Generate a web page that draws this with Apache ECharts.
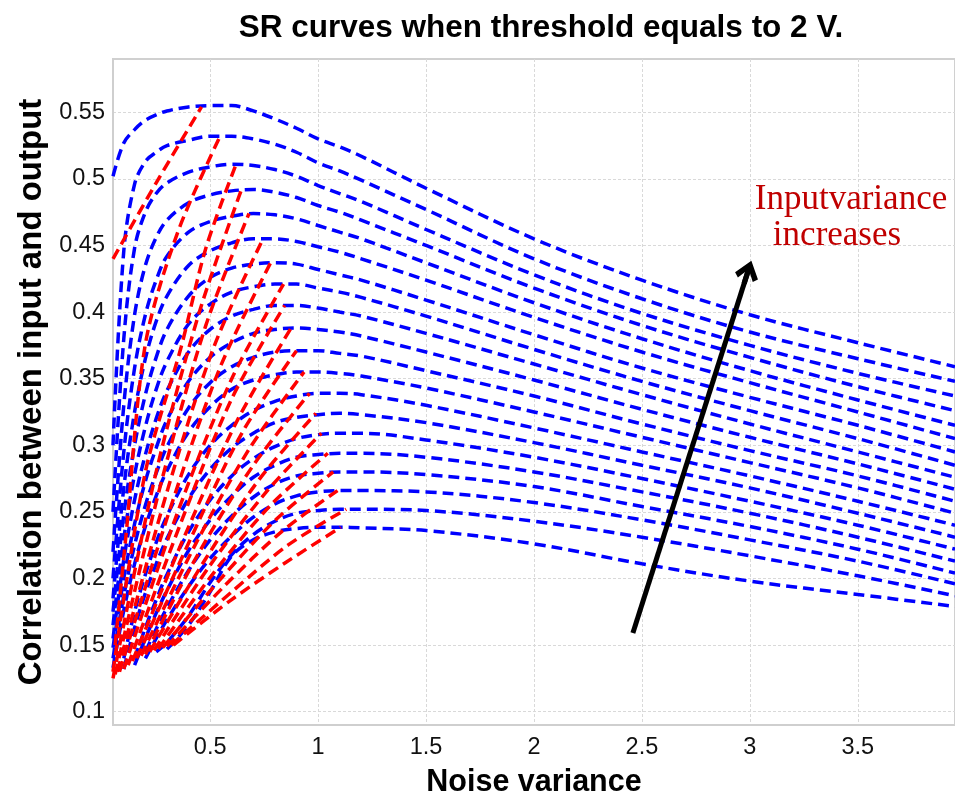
<!DOCTYPE html>
<html>
<head>
<meta charset="utf-8">
<script src="https://cdn.jsdelivr.net/npm/echarts@6/dist/echarts.min.js"></script>
<style>
html,body{margin:0;padding:0;background:#fff;}
#c{width:955px;height:803px;}
</style>
</head>
<body>
<div id="c"></div>
<script>
// ---- Data ----
const xTicks = [0.5, 1, 1.5, 2, 2.5, 3, 3.5];
const yTicks = [0.1, 0.15, 0.2, 0.25, 0.3, 0.35, 0.4, 0.45, 0.5, 0.55];

const noiseGrid = [0.05, 0.1, 0.15, 0.2, 0.25, 0.3, 0.4, 0.5, 0.6, 0.7, 0.8, 0.9, 1.0, 1.1, 1.2, 1.5, 2.0, 2.5, 3.0, 3.5, 3.95];

const blue1  = [0.502, 0.527, 0.537, 0.544, 0.548, 0.551, 0.554, 0.555, 0.555, 0.551, 0.545, 0.538, 0.530, 0.524, 0.517, 0.493, 0.455, 0.424, 0.398, 0.377, 0.359];
const blue2  = [0.300, 0.446, 0.496, 0.513, 0.520, 0.525, 0.529, 0.532, 0.532, 0.530, 0.526, 0.520, 0.512, 0.506, 0.499, 0.477, 0.440, 0.410, 0.385, 0.365, 0.348];
const blue3  = [0.250, 0.380, 0.448, 0.475, 0.489, 0.497, 0.505, 0.509, 0.511, 0.510, 0.507, 0.502, 0.495, 0.489, 0.483, 0.462, 0.428, 0.399, 0.375, 0.354, 0.337];
const blue4  = [0.220, 0.330, 0.398, 0.435, 0.456, 0.469, 0.482, 0.488, 0.491, 0.492, 0.490, 0.486, 0.480, 0.475, 0.469, 0.450, 0.418, 0.390, 0.366, 0.344, 0.326];
const blue5  = [0.200, 0.295, 0.358, 0.398, 0.424, 0.442, 0.460, 0.468, 0.472, 0.474, 0.473, 0.470, 0.465, 0.460, 0.455, 0.437, 0.407, 0.380, 0.356, 0.334, 0.315];
const blue6  = [0.185, 0.268, 0.325, 0.365, 0.393, 0.412, 0.435, 0.446, 0.452, 0.455, 0.455, 0.453, 0.449, 0.445, 0.440, 0.424, 0.396, 0.370, 0.347, 0.325, 0.305];
const blue7  = [0.175, 0.248, 0.300, 0.338, 0.366, 0.387, 0.412, 0.426, 0.433, 0.436, 0.437, 0.436, 0.432, 0.428, 0.424, 0.409, 0.383, 0.358, 0.336, 0.315, 0.295];
const blue8  = [0.165, 0.230, 0.278, 0.314, 0.342, 0.363, 0.391, 0.406, 0.415, 0.419, 0.421, 0.421, 0.418, 0.415, 0.411, 0.397, 0.372, 0.348, 0.326, 0.305, 0.285];
const blue9  = [0.155, 0.214, 0.259, 0.293, 0.320, 0.341, 0.370, 0.387, 0.397, 0.402, 0.405, 0.405, 0.403, 0.400, 0.397, 0.384, 0.361, 0.338, 0.316, 0.295, 0.276];
const blue10 = [0.148, 0.200, 0.241, 0.273, 0.298, 0.319, 0.348, 0.366, 0.377, 0.384, 0.387, 0.388, 0.387, 0.385, 0.382, 0.370, 0.349, 0.327, 0.306, 0.286, 0.267];
const blue11 = [0.140, 0.187, 0.225, 0.255, 0.279, 0.299, 0.328, 0.347, 0.359, 0.366, 0.370, 0.371, 0.371, 0.369, 0.367, 0.356, 0.337, 0.316, 0.296, 0.277, 0.258];
const blue12 = [0.133, 0.176, 0.211, 0.239, 0.262, 0.281, 0.310, 0.329, 0.342, 0.349, 0.353, 0.355, 0.355, 0.354, 0.352, 0.343, 0.325, 0.306, 0.287, 0.268, 0.249];
const blue13 = [null, 0.140, 0.175, 0.203, 0.227, 0.247, 0.278, 0.300, 0.315, 0.326, 0.333, 0.337, 0.339, 0.339, 0.338, 0.330, 0.313, 0.295, 0.277, 0.258, 0.240];
const blue14 = [null, 0.132, 0.163, 0.189, 0.211, 0.230, 0.260, 0.282, 0.298, 0.309, 0.317, 0.321, 0.323, 0.324, 0.323, 0.317, 0.302, 0.285, 0.268, 0.249, 0.231];
const blue15 = [null, null, 0.140, 0.163, 0.184, 0.203, 0.235, 0.259, 0.277, 0.290, 0.299, 0.305, 0.308, 0.309, 0.309, 0.304, 0.291, 0.275, 0.258, 0.240, 0.222];
const blue16 = [null, null, 0.135, 0.155, 0.174, 0.191, 0.221, 0.244, 0.262, 0.276, 0.285, 0.291, 0.293, 0.294, 0.294, 0.291, 0.280, 0.265, 0.249, 0.231, 0.213];
const blue17 = [null, null, null, 0.145, 0.162, 0.178, 0.206, 0.229, 0.247, 0.261, 0.271, 0.277, 0.279, 0.280, 0.280, 0.278, 0.269, 0.254, 0.239, 0.222, 0.204];
const blue18 = [null, null, null, 0.140, 0.155, 0.169, 0.194, 0.215, 0.232, 0.246, 0.256, 0.262, 0.265, 0.266, 0.266, 0.265, 0.257, 0.244, 0.229, 0.213, 0.196];
const blue19 = [null, null, null, null, 0.145, 0.152, 0.172, 0.197, 0.218, 0.233, 0.243, 0.249, 0.251, 0.252, 0.252, 0.251, 0.243, 0.231, 0.217, 0.202, 0.187];
const blue20 = [null, null, null, null, null, 0.147, 0.165, 0.190, 0.217, 0.229, 0.235, 0.2375, 0.2385, 0.2385, 0.238, 0.236, 0.226, 0.211, 0.198, 0.188, 0.179];

const red1  = [[0.05, 0.440], [0.25, 0.497], [0.46, 0.554]];
const red2  = [[0.06, 0.150], [0.11, 0.232], [0.20, 0.376], [0.35, 0.460], [0.546, 0.532]];
const red3  = [[0.05, 0.130], [0.20, 0.280], [0.366, 0.374], [0.48, 0.448], [0.62, 0.511]];
const red4  = [[0.05, 0.125], [0.25, 0.280], [0.45, 0.400], [0.645, 0.492]];
const red5  = [[0.06, 0.128], [0.27, 0.270], [0.48, 0.390], [0.68, 0.474]];
const red6  = [[0.07, 0.130], [0.30, 0.265], [0.52, 0.375], [0.745, 0.455]];
const red7  = [[0.08, 0.130], [0.32, 0.255], [0.55, 0.360], [0.78, 0.437]];
const red8  = [[0.10, 0.132], [0.35, 0.250], [0.60, 0.350], [0.84, 0.421]];
const red9  = [[0.12, 0.135], [0.36, 0.240], [0.60, 0.335], [0.845, 0.405]];
const red10 = [[0.14, 0.138], [0.39, 0.235], [0.63, 0.320], [0.875, 0.388]];
const red11 = [[0.16, 0.140], [0.41, 0.230], [0.65, 0.310], [0.90, 0.371]];
const red12 = [[0.18, 0.142], [0.43, 0.225], [0.68, 0.297], [0.935, 0.355]];
const red13 = [[0.20, 0.143], [0.45, 0.220], [0.70, 0.285], [0.96, 0.339]];
const red14 = [[0.22, 0.145], [0.48, 0.215], [0.73, 0.275], [0.99, 0.324]];
const red15 = [[0.24, 0.146], [0.50, 0.210], [0.76, 0.265], [1.015, 0.309]];
const red16 = [[0.26, 0.147], [0.52, 0.205], [0.78, 0.255], [1.045, 0.294]];
const red17 = [[0.28, 0.148], [0.55, 0.200], [0.81, 0.245], [1.07, 0.280]];
const red18 = [[0.30, 0.149], [0.57, 0.195], [0.83, 0.235], [1.09, 0.266]];
const red19 = [[0.32, 0.150], [0.60, 0.190], [0.86, 0.225], [1.13, 0.252]];
const red20 = [[0.33, 0.150], [0.59, 0.183], [0.85, 0.212], [1.105, 0.2385]];

const arrowTail = [2.458, 0.159];
const arrowHead = [2.990, 0.430];

// ---- Build chart ----
const blueList = [blue1, blue2, blue3, blue4, blue5, blue6, blue7, blue8, blue9, blue10,
                  blue11, blue12, blue13, blue14, blue15, blue16, blue17, blue18, blue19, blue20];
const redList = [red1, red2, red3, red4, red5, red6, red7, red8, red9, red10,
                 red11, red12, red13, red14, red15, red16, red17, red18, red19, red20];

const series = [];
blueList.forEach(function (arr) {
  series.push({
    type: 'line',
    data: noiseGrid.map(function (x, j) { return [x, arr[j]]; }).filter(function (p) { return p[1] !== null; }),
    smooth: 0.35,
    symbol: 'none',
    silent: true,
    z: 2,
    lineStyle: { color: '#0000ff', width: 3.5, type: [11, 6] }
  });
});
redList.forEach(function (arr) {
  series.push({
    type: 'line',
    data: arr,
    smooth: 0.3,
    symbol: 'none',
    silent: true,
    z: 3,
    lineStyle: { color: '#ff0000', width: 3.5, type: [11, 6] }
  });
});
series.push({
  type: 'lines',
  coordinateSystem: 'cartesian2d',
  silent: true,
  z: 5,
  symbol: ['none', 'path://M10,0 L20,12 L16.5,15 L12.2,9.5 L12.2,18 L7.8,18 L7.8,9.5 L3.5,15 L0,12 Z'],
  symbolSize: [26, 24],
  lineStyle: { color: '#000000', width: 5, curveness: 0, opacity: 1 },
  data: [{ coords: [arrowTail, arrowHead] }]
});

const chart = echarts.init(document.getElementById('c'), null, { renderer: 'canvas' });
chart.setOption({
  animation: false,
  backgroundColor: '#ffffff',
  textStyle: { fontFamily: 'Liberation Sans' },
  title: {
    text: 'SR curves when threshold equals to 2 V.',
    left: 536,
    top: 7,
    textAlign: 'center',
    textStyle: { fontFamily: 'Liberation Sans', fontSize: 31.5, fontWeight: 'bold', color: '#000' }
  },
  grid: {
    left: 113, top: 59, right: -2, bottom: 74,
    show: true, borderColor: '#d0d0d0', borderWidth: 2
  },
  xAxis: {
    type: 'value', min: 0.05, max: 3.95,
    name: 'Noise variance', nameLocation: 'middle', nameGap: 42,
    nameTextStyle: { fontFamily: 'Liberation Sans', fontSize: 30.5, fontWeight: 'bold', color: '#000' },
    axisLine: { show: true, lineStyle: { color: '#cfcfcf', width: 2 } },
    axisTick: { show: false, customValues: xTicks },
    axisLabel: { customValues: xTicks, fontSize: 23.5, color: '#111', margin: 11, fontFamily: 'Liberation Sans' },
    splitLine: { show: true, lineStyle: { color: '#d9d9d9', width: 1, type: [3, 2] } }
  },
  yAxis: {
    type: 'value', min: 0.09, max: 0.59,
    name: 'Correlation between input and output', nameLocation: 'middle', nameGap: 64,
    nameTextStyle: { fontFamily: 'Liberation Sans', fontSize: 33, fontWeight: 'bold', color: '#000' },
    axisLine: { show: true, lineStyle: { color: '#cfcfcf', width: 2 } },
    axisTick: { show: false, customValues: yTicks },
    axisLabel: { customValues: yTicks, fontSize: 23.5, color: '#111', margin: 8, fontFamily: 'Liberation Sans' },
    splitLine: { show: true, lineStyle: { color: '#d9d9d9', width: 1, type: [3, 2] } }
  },
  graphic: [
    { type: 'text', x: 851, y: 200, z: 10,
      style: { text: 'Inputvariance', font: '35px "Liberation Serif"', fill: '#c00000', align: 'center', verticalAlign: 'middle' } },
    { type: 'text', x: 837, y: 236, z: 10,
      style: { text: 'increases', font: '35px "Liberation Serif"', fill: '#c00000', align: 'center', verticalAlign: 'middle' } }
  ],
  series: series
});
</script>
</body>
</html>
